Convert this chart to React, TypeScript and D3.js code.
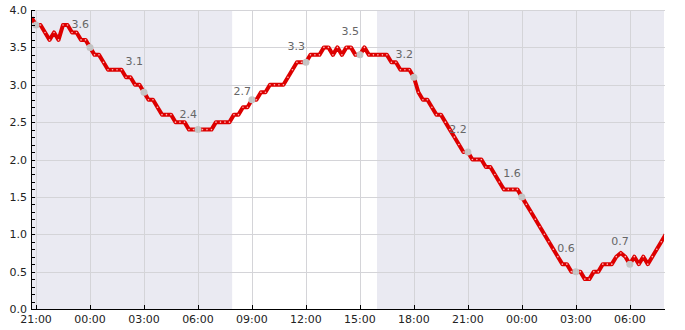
import React from "react";
import * as d3 from "d3";

// hours relative to 21:00 on day 1, data every 15 minutes starting 20:45
const startHour = -0.25;
const stepHours = 0.25;
const levels: number[] = [
  3.9, 3.8, 3.8, 3.7, 3.6, 3.7, 3.6, 3.8, 3.8, 3.7, 3.7, 3.6, 3.6,
  3.5, 3.4, 3.4, 3.3, 3.2, 3.2, 3.2, 3.2, 3.1, 3.1, 3.0, 3.0,
  2.9, 2.8, 2.8, 2.7, 2.6, 2.6, 2.6, 2.5, 2.5, 2.5, 2.4, 2.4,
  2.4, 2.4, 2.4, 2.4, 2.5, 2.5, 2.5, 2.5, 2.6, 2.6, 2.7, 2.7,
  2.8, 2.8, 2.9, 2.9, 3.0, 3.0, 3.0, 3.0, 3.1, 3.2, 3.3, 3.3,
  3.3, 3.4, 3.4, 3.4, 3.5, 3.5, 3.4, 3.5, 3.4, 3.5, 3.5, 3.4,
  3.4, 3.5, 3.4, 3.4, 3.4, 3.4, 3.4, 3.3, 3.3, 3.2, 3.2, 3.2,
  3.1, 2.9, 2.8, 2.8, 2.7, 2.6, 2.6, 2.5, 2.4, 2.3, 2.2, 2.1,
  2.1, 2.0, 2.0, 2.0, 1.9, 1.9, 1.8, 1.7, 1.6, 1.6, 1.6, 1.6,
  1.5, 1.4, 1.3, 1.2, 1.1, 1.0, 0.9, 0.8, 0.7, 0.6, 0.6, 0.5,
  0.5, 0.5, 0.4, 0.4, 0.5, 0.5, 0.6, 0.6, 0.6, 0.7, 0.75, 0.7,
  0.6, 0.7, 0.6, 0.7, 0.6, 0.7, 0.8, 0.9, 1.0,
];

// marker points every 3 hours (hours since 21:00)
const markerHours: number[] = [0, 3, 6, 9, 12, 15, 18, 21, 24, 27, 30, 33];
const markerLabels: (string | null)[] = [null, "3.6", "3.1", "2.4", "2.7", "3.3", "3.5", "3.2", "2.2", "1.6", "0.6", "0.7"];

const tickLabels: string[] = ["21:00", "00:00", "03:00", "06:00", "09:00", "12:00", "15:00", "18:00", "21:00", "00:00", "03:00", "06:00"];
const yTicks: number[] = [0, 0.5, 1, 1.5, 2, 2.5, 3, 3.5, 4];

// shaded night periods (hours since 21:00)
const nights: [number, number][] = [[-0.3, 10.9], [18.95, 35]];

export default function App() {
  const W = 685, H = 330;
  const left = 31, right = 664, top = 10, bottom = 309;
  const x = d3.scaleLinear().domain([-0.28, 34.9]).range([left, right]);
  const y = d3.scaleLinear().domain([0, 4]).range([bottom, top]);

  const pts = levels.map((v, i) => [startHour + i * stepHours, v] as [number, number]);
  const line = d3.line<[number, number]>().x(d => x(d[0])).y(d => y(d[1]));
  const valAt = (h: number) => {
    const i = Math.round((h - startHour) / stepHours);
    return levels[Math.max(0, Math.min(levels.length - 1, i))];
  };
  const minor = d3.range(0, 4.0001, 0.1);

  return (
    <svg width={W} height={H} style={{ position: "absolute", left: 0, top: 0 }} fontFamily="DejaVu Sans, sans-serif">
      <defs>
        <clipPath id="plot">
          <rect x={left} y={top - 2} width={right - left} height={bottom - top + 2} />
        </clipPath>
      </defs>
      <rect x={left} y={top} width={right - left} height={bottom - top} fill="#ffffff" />
      {nights.map((n, i) => {
        const x0 = Math.max(left, x(n[0]));
        const x1 = Math.min(right, x(n[1]));
        return <rect key={i} x={x0} y={top} width={x1 - x0} height={bottom - top} fill="#eaeaf2" />;
      })}
      {yTicks.map((t, i) => (
        <line key={i} x1={left} x2={right + 1} y1={Math.round(y(t)) + 0.5} y2={Math.round(y(t)) + 0.5} stroke="#d4d4d8" strokeWidth={1} />
      ))}
      {markerHours.map((h, i) => (
        <line key={i} x1={Math.round(x(h)) + 0.5} x2={Math.round(x(h)) + 0.5} y1={top} y2={bottom} stroke="#d4d4d8" strokeWidth={1} />
      ))}
      <g clipPath="url(#plot)">
        <path d={line(pts) || ""} fill="none" stroke="#dd0000" strokeWidth={4} strokeLinejoin="round" />
        {pts.map((p, i) => (
          <circle key={i} cx={x(p[0])} cy={y(p[1])} r={0.8} fill="#ffb8b8" />
        ))}
      </g>
      {markerHours.map((h, i) => (
        <circle key={i} cx={x(h)} cy={y(valAt(h))} r={3.5} fill="#c4c4c4" />
      ))}
      {markerHours.map((h, i) => {
        const lab = markerLabels[i];
        if (!lab) return null;
        return (
          <text key={i} x={x(h) - 1} y={y(parseFloat(lab)) - 12} textAnchor="end" fontSize={11} fill="#666666">{lab}</text>
        );
      })}
      {/* axes */}
      <line x1={left + 0.5} x2={left + 0.5} y1={top} y2={bottom + 1} stroke="#000" />
      <line x1={left} x2={right + 1} y1={bottom + 0.5} y2={bottom + 0.5} stroke="#000" />
      {minor.map((t, i) => (
        <line key={i} x1={left} x2={left + 4} y1={Math.round(y(t)) + 0.5} y2={Math.round(y(t)) + 0.5} stroke="#000" />
      ))}
      {markerHours.map((h, i) => (
        <line key={i} x1={Math.round(x(h)) + 0.5} x2={Math.round(x(h)) + 0.5} y1={bottom} y2={bottom - 4} stroke="#000" />
      ))}
      {yTicks.map((t, i) => (
        <text key={i} x={27} y={y(t) + 4} textAnchor="end" fontSize={11} fill="#222">{t.toFixed(1)}</text>
      ))}
      {tickLabels.map((l, i) => (
        <text key={i} x={x(markerHours[i])} y={323} textAnchor="middle" fontSize={11} fill="#222">{l}</text>
      ))}
    </svg>
  );
}
